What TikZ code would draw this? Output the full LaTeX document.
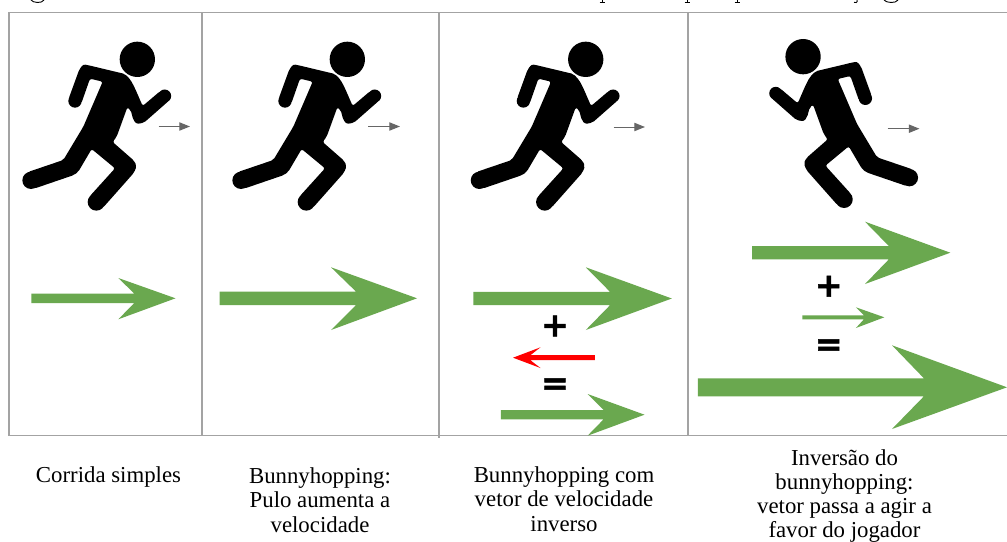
\documentclass[tikz,border=0pt]{standalone}
\usepackage{fontspec}
\setmainfont{Liberation Serif}
\newfontfamily\symfont[BoldFeatures={FakeBold=1.5}]{DejaVu Sans}
\usetikzlibrary{arrows.meta}
\definecolor{gridgray}{HTML}{A3A3A3}
\definecolor{vecgreen}{HTML}{6AA84F}
\definecolor{smallgray}{HTML}{666666}
\tikzset{
  gridline/.style={draw=gridgray,line width=0.95pt},
  caption/.style={align=center,inner sep=0pt,font=\fontsize{17.1pt}{18.5pt}\selectfont},
  tightcaption/.style={caption,font=\fontsize{17.1pt}{18pt}\selectfont},
  opsign/.style={inner sep=0pt,font=\fontsize{25pt}{25pt}\symfont\bfseries},
  smallvec/.style={draw=smallgray,line width=0.75pt,-{Triangle[length=8pt,width=6.2pt]}},
  greenvec/.style={fill=vecgreen,draw=none},
  redvec/.style={fill=red,draw=none},
  descender/.style={draw=black,line width=0.7pt}
}
% left end, notch, barb, tip, y, half shaft, y of upper barb, y of lower barb
\newcommand{\blockarrow}[9]{%
  \fill[#1] (#2,#6-#7) -- (#3,#6-#7) -- (#4,#8) -- (#5,#6) -- (#4,#9) -- (#3,#6+#7) -- (#2,#6+#7) -- cycle;}
\newcommand{\runnerfig}{%
  \begin{scope}[x=0.25pt,y=-0.25pt]
    \fill[black] (412,178) circle [radius=53];
    \fill[black,rounded corners=1.6pt] (238,208) -- (250,193) -- (262,195) -- (375,222) -- (392,240) -- (405,265) -- (428,318) -- (481,273) -- (507,302) -- (432,368) -- (410,372) -- (400,360) -- (392,330) -- (382,322) -- (350,410) -- (338,426) -- (402,482) -- (410,498) -- (402,518) -- (309,623) -- (269,589) -- (345,505) -- (275,447) -- (235,515) -- (222,525) -- (102,566) -- (84,516) -- (190,480) -- (250,380) -- (308,245) -- (270,236) -- (244,310) -- (206,296) -- cycle;
    \fill[black] (225,303) circle [radius=20];
    \fill[black] (494,288) circle [radius=19.5];
    \fill[black] (289,606) circle [radius=26];
    \fill[black] (93,541) circle [radius=26];
  \end{scope}}
\begin{document}
\begin{tikzpicture}[x=0.75pt,y=-0.75pt]
  \useasboundingbox[fill=white] (0,0) rectangle (1007,542);
  % cut-off caption descenders
  \draw[descender] (31,0) .. controls (33,3) and (42,3.6) .. (44,0);
  \draw[descender] (599.5,2.2) -- (604.5,2.2) (602,0) -- (602,2.2);
  \draw[descender] (684.5,2.2) -- (689.5,2.2) (687,0) -- (687,2.2);
  \draw[descender] (734.5,2.2) -- (739.5,2.2) (737,0) -- (737,2.2);
  \draw[descender] (857,0) .. controls (858,3) and (855,3) .. (854,2.4);
  \draw[descender] (884,0) .. controls (886,3) and (896,3.6) .. (898,0);
  % frame
  \draw[gridline] (1007,12.5) -- (9,12.5) -- (9,435.5) -- (1007,435.5);
  \draw[gridline] (202,12.5) -- (202,435.5);
  \draw[gridline] (439,12.5) -- (439,438);
  \draw[gridline] (688,12.5) -- (688,435.5);
  % runners
  \begin{scope} \runnerfig \end{scope}
  \begin{scope}[shift={(157.5pt,0pt)}] \runnerfig \end{scope}
  \begin{scope}[shift={(336.3pt,0pt)}] \runnerfig \end{scope}
  \begin{scope}[shift={(705.3pt,2pt)},xscale=-1] \runnerfig \end{scope}
  % small grey arrows
  \coordinate (s1a) at (158.5,126.5); \coordinate (s1b) at (190,126.5);
  \coordinate (s2a) at (368,126.5);   \coordinate (s2b) at (400,126.5);
  \coordinate (s3a) at (613.5,127);   \coordinate (s3b) at (645,127);
  \coordinate (s4a) at (887.5,128.7); \coordinate (s4b) at (919.5,128.7);
  \draw[smallvec] (s1a) -- (s1b);
  \draw[smallvec] (s2a) -- (s2b);
  \draw[smallvec] (s3a) -- (s3b);
  \draw[smallvec] (s4a) -- (s4b);
  % velocity arrows
  \blockarrow{greenvec}{31.3}{134.3}{118.3}{175.5}{298.3}{4.7}{278}{319.3}
  \blockarrow{greenvec}{219.7}{356}{331}{417}{298.3}{6.7}{267.3}{330}
  \blockarrow{greenvec}{473.3}{610}{585.8}{671.8}{298.5}{6.7}{267.3}{330}
  \blockarrow{redvec}{594.8}{530.4}{540.5}{513}{357.7}{2.5}{347.3}{368}
  \blockarrow{greenvec}{500.8}{603.5}{587.6}{644.5}{414.7}{4.7}{394}{435.7}
  \blockarrow{greenvec}{752.1}{888.8}{865}{950.3}{252.7}{6.7}{221.7}{284}
  \blockarrow{greenvec}{802.4}{863.9}{855.9}{884.3}{317.3}{2}{307.3}{328}
  \blockarrow{greenvec}{697.9}{923.9}{892}{1007}{387.3}{9}{345.3}{429}
  % signs
  \node[opsign] (plusa) at (555,326) {+};
  \node[opsign] (equa)  at (555,386.5) {=};
  \node[opsign] (plusb) at (828.8,286.2) {+};
  \node[opsign] (equb)  at (828.8,347.5) {=};
  % captions
  \node[caption] (cap1) at (108.5,477.5) {Corrida simples};
  \node[caption] (cap2) at (320,500) {Bunnyhopping:\\Pulo aumenta a\\velocidade};
  \node[caption] (cap3) at (564,499) {Bunnyhopping com\\vetor de velocidade\\inverso};
  \node[tightcaption] (cap4) at (844.5,496.5) {Inversão do\\bunnyhopping:\\vetor passa a agir a\\favor do jogador};
\end{tikzpicture}
\end{document}
